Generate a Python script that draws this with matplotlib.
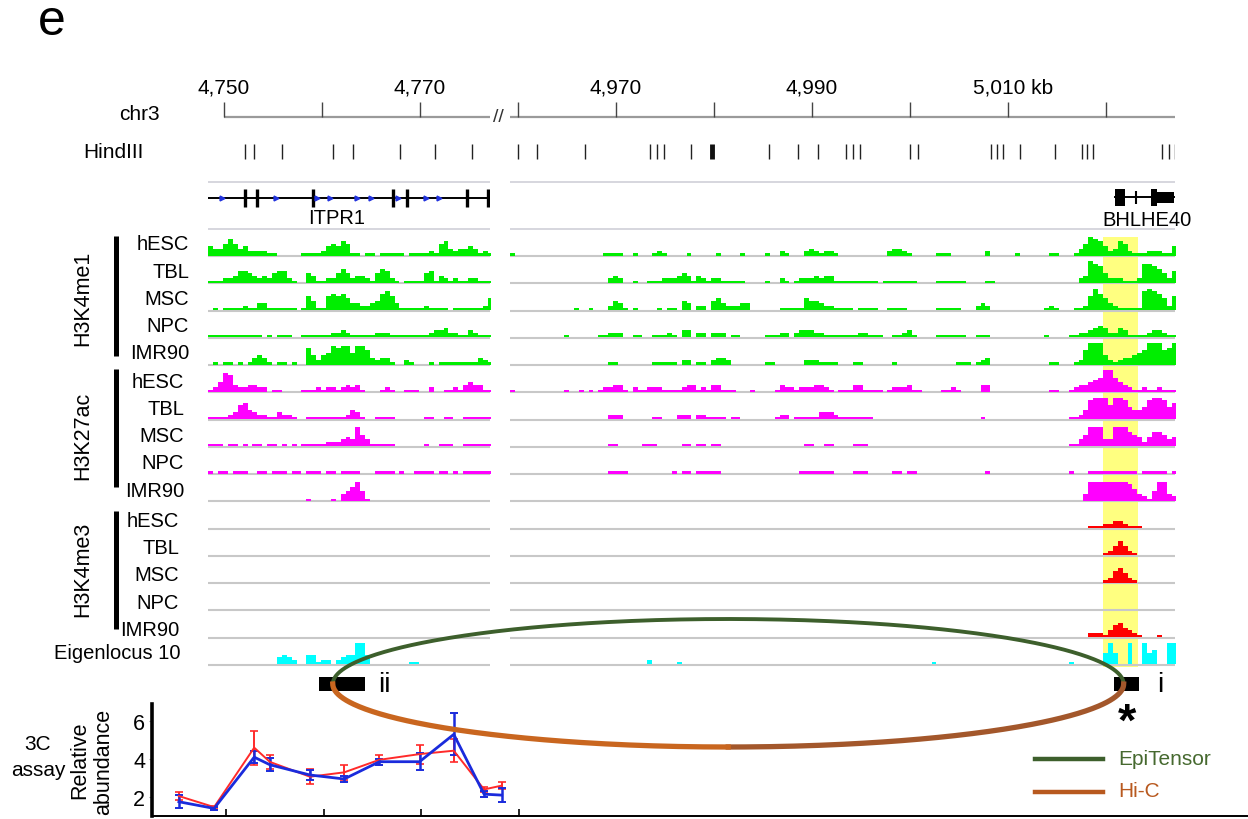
import numpy as np
import matplotlib
matplotlib.use("Agg")
import matplotlib.pyplot as plt

plt.rcParams['font.family'] = ['Liberation Sans', 'DejaVu Sans']

W, H = 1248, 820

# ---------------- data ----------------
cells = ['hESC', 'TBL', 'MSC', 'NPC', 'IMR90']
marks = ['H3K4me1', 'H3K27ac', 'H3K4me3']
eigen_name = 'Eigenlocus 10'

# genomic windows (kb)
left_lim = (4748.37, 4777.14)
right_lim = (4959.18, 5027.04)
left_ticks = [4750, 4760, 4770]
right_ticks = [4960, 4970, 4980, 4990, 5000, 5010, 5020]
tick_text = {4750: '4,750', 4770: '4,770', 4970: '4,970', 4990: '4,990'}
last_tick_text = '5,010 kb'

hind_left = [4752.1, 4753.1, 4755.9, 4761.1, 4763.2, 4768.0, 4771.5, 4775.3]
hind_right = [4960.0, 4961.9, 4966.8, 4973.5, 4974.2, 4974.9, 4977.7, 4985.6,
              4988.6, 4990.6, 4993.5, 4994.2, 4994.9, 5000.0, 5000.8, 5008.3,
              5008.9, 5009.5, 5011.2, 5014.8, 5017.6, 5018.1, 5018.7, 5025.7,
              5026.4, 5027.0]
hind_double = 4979.8

itpr1_exons = [4752.1, 4753.4, 4759.1, 4767.2, 4768.7, 4774.8, 4776.9]
itpr1_arrows = [4749.8, 4755.3, 4759.5, 4760.8, 4763.6, 4765.0, 4767.8, 4770.6, 4771.9]
bhlhe40_span = (5020.9, 5026.9)
bhlhe40_coding = [(5020.9, 5021.9), (5024.6, 5025.2)]
bhlhe40_utr = [(5025.2, 5026.9)]
bhlhe40_mid = [5023.1]

highlight = (5019.7, 5023.3)
anchor_ii = (4759.7, 4764.4)
anchor_i = (5020.8, 5023.35)
loop_ends = (4761.1, 5021.8)

# signal levels (0-9) per 0.5 kb bin; left window from 4748.4 kb, right from 4959.2 kb
left_signal = {
    ('H3K4me1', 'hESC'):  "4335753422 2211000001 1112454651 1011011111 0111121563 23343121",
    ('H3K4me1', 'TBL'):   "1112235543 2324552100 4311224642 3321465210 1111451321 21122111",
    ('H3K4me1', 'MSC'):   "0101111211 3311111101 6411676753 3223478631 1111211110 11111125",
    ('H3K4me1', 'NPC'):   "1111111111 1010111001 1111122321 1111222111 1111123342 21132111",
    ('H3K4me1', 'IMR90'): "0101101013 4310110100 7424587885 8863233100 2100010111 11111321",
    ('H3K27ac', 'hESC'):  "1248732233 2201100001 1121221232 3100012100 1110020011 21343311",
    ('H3K27ac', 'TBL'):   "1111236743 2211322100 1111111124 3100111100 0000110011 00111111",
    ('H3K27ac', 'MSC'):   "1110110101 1011010101 1111222343 8531111100 0000100111 00111111",
    ('H3K27ac', 'NPC'):   "1011011100 1101110110 1110110111 1000111101 0011110110 10111111",
    ('H3K27ac', 'IMR90'): "0000000000 0000000000 1000010346 8410000000 0000000000 00000000",
    ('H3K4me3', 'hESC'):  "0000000000 0000000000 0000000000 0000000000 0000000000 00000000",
    ('H3K4me3', 'TBL'):   "0000000000 0000000000 0000000000 0000000000 0000000000 00000000",
    ('H3K4me3', 'MSC'):   "0000000000 0000000000 0000000000 0000000000 0000000000 00000000",
    ('H3K4me3', 'NPC'):   "0000000000 0000000000 0000000000 0000000000 0000000000 00000000",
    ('H3K4me3', 'IMR90'): "0000000000 0000000000 0000000000 0000000000 0000000000 00000000",
    eigen_name:           "0000000000 0000343200 4412202344 9940000000 0110000000 00000000",
}
right_signal = {
    ('H3K4me1', 'hESC'):  "1000000000 0000000001 1110010001 2100001000 0010000100 0010021000 2321221000 "
                          "0000000233 2100000111 0000000200 0001000000 1100013587 6423652111 222114",
    ('H3K4me1', 'TBL'):   "0000000000 0000000000 2320010011 1222343132 1221111100 0010021012 2232331111 "
                          "1111101111 1110000111 1110000110 0000000000 0000002398 7422211128 876425",
    ('H3K4me1', 'MSC'):   "0000000000 0001001000 2431010000 1011043022 0453222330 0000011111 5443221111 "
                          "0111100111 1000000111 1100023200 0000000001 2100011269 7532111118 987526",
    ('H3K4me1', 'NPC'):   "0000000000 0100000011 2220011001 1121033022 0222011000 0011122023 3322111111 "
                          "1221110011 2310000111 1110011100 0000000001 0000112234 5422431111 233211",
    ('H3K4me1', 'IMR90'): "0000000000 0000000000 1100000001 1111022011 0233200000 0011000000 2221111000 "
                          "1100000010 0000000000 0111012300 0000000000 1100012699 9421233456 999679",
    ('H3K27ac', 'hESC'):  "1000000000 0100101012 2331021122 2111123312 1331110001 0000132212 2233210111 "
                          "3311110122 2311000011 2100003300 0000000000 1100123345 6996432112 112111",
    ('H3K27ac', 'TBL'):   "0000000000 0000000000 2220000001 1000222022 1111011000 0000122011 1113332111 "
                          "1111000000 0000000000 0000001000 0000000000 0000112489 9969985445 899857",
    ('H3K27ac', 'MSC'):   "0000000000 0000000000 1100000111 0000011011 0110000000 0000000000 1100110000 "
                          "1110000000 0000000000 0000000000 0000000000 0000113588 8338886542 466534",
    ('H3K27ac', 'NPC'):   "0000000000 0000000000 1111000000 0001011011 1110000000 0000000001 1111110000 "
                          "1110000011 0110000000 0000000100 0000000000 0000100011 1111111101 111101",
    ('H3K27ac', 'IMR90'): "0000000000 0000000000 0000000000 0000000000 0000000000 0000000000 0000000000 "
                          "0000000000 0000000000 0000000000 0000000000 0000000388 8888887532 148832",
    ('H3K4me3', 'hESC'):  "0000000000 0000000000 0000000000 0000000000 0000000000 0000000000 0000000000 "
                          "0000000000 0000000000 0000000000 0000000000 0000000011 1223321110 000000",
    ('H3K4me3', 'TBL'):   "0000000000 0000000000 0000000000 0000000000 0000000000 0000000000 0000000000 "
                          "0000000000 0000000000 0000000000 0000000000 0000000000 0124642100 000000",
    ('H3K4me3', 'MSC'):   "0000000000 0000000000 0000000000 0000000000 0000000000 0000000000 0000000000 "
                          "0000000000 0000000000 0000000000 0000000000 0000000000 0125642100 000000",
    ('H3K4me3', 'NPC'):   "0000000000 0000000000 0000000000 0000000000 0000000000 0000000000 0000000000 "
                          "0000000000 0000000000 0000000000 0000000000 0000000000 0000000000 000000",
    ('H3K4me3', 'IMR90'): "0000000000 0000000000 0000000000 0000000000 0000000000 0000000000 0000000000 "
                          "0000000000 0000000000 0000000000 0000000000 0000000022 2135643210 001000",
    eigen_name:           "0000000000 0000000000 0000000020 0000100000 0000000000 0000000000 0000000000 "
                          "0000000000 0000001000 0000000000 0000000000 0000100000 0595009009 560099",
}
left_start, right_start, bin_kb = 4748.4, 4959.2, 0.5

# 3C assay
c3_pos = [4745.2, 4748.8, 4752.9, 4754.5, 4758.6, 4762.1, 4765.7, 4769.8, 4773.3, 4776.4, 4778.2]
c3_red = [2.05, 1.47, 4.6, 3.85, 3.07, 3.3, 3.96, 4.26, 4.44, 2.4, 2.6]
c3_red_err = [0.2, 0.08, 0.9, 0.35, 0.4, 0.4, 0.25, 0.5, 0.6, 0.15, 0.2]
c3_blue = [1.75, 1.4, 4.1, 3.7, 3.16, 2.95, 3.86, 3.86, 5.3, 2.15, 2.1]
c3_blue_err = [0.35, 0.1, 0.3, 0.35, 0.25, 0.15, 0.15, 0.45, 1.1, 0.15, 0.35]

# ---------------- style ----------------
mark_colors = {'H3K4me1': '#00ee00', 'H3K27ac': '#ff00ff', 'H3K4me3': '#ff0000'}
eigen_color = '#00ffff'
green_loop = '#3d5f2c'
orange_loop = '#c9661f'
brown_loop = '#a3572b'
grey = '#c8c8c8'
fs_track = 14.5
fs_big = 15

fig = plt.figure(figsize=(W / 100, H / 100), dpi=100)


def px_axes(x0, y0, x1, y1, **kw):
    return fig.add_axes([x0 / W, 1 - y1 / H, (x1 - x0) / W, (y1 - y0) / H], **kw)


def levels(s):
    lv = np.array([int(c) for c in s.replace(' ', '')], dtype=float)
    return np.where(lv > 0, 2.4 * lv - 0.3, 0.0)


track_keys = [(m, c) for m in marks for c in cells] + [eigen_name]
base_y = {k: 257 + 27.25 * i for i, k in enumerate(track_keys)}

ax_l = px_axes(208, 0, 490, H)
ax_r = px_axes(510, 0, 1175, H)
panels = [(ax_l, left_lim, left_ticks, hind_left, left_signal, left_start, left_ticks[0]),
          (ax_r, right_lim, right_ticks, hind_right, right_signal, right_start, right_lim[0])]

for ax, lim, ticks, hind, sig, start, ruler0 in panels:
    ax.set_xlim(lim)
    ax.set_ylim(H, 0)
    ax.axis('off')
    # ruler
    ax.plot([ruler0, lim[1]], [118, 118], color='#9a9a9a', lw=1.6, solid_capstyle='butt')
    ax.vlines(ticks, 103, 118, color='#444444', lw=1.0)
    for t in ticks:
        if t in tick_text:
            ax.text(t, 88, tick_text[t], ha='center', va='center', fontsize=fs_big)
    # HindIII sites
    ax.vlines(hind, 145, 160, color='#222222', lw=1.0)
    # gene track frame
    ax.hlines([183, 230], lim[0], lim[1], color='#d0d0d8', lw=1.2)
    # signal tracks
    for k in track_keys:
        b = base_y[k]
        ax.hlines(b, lim[0], lim[1], color=grey, lw=1.5, zorder=1)
        h = levels(sig[k])
        x = start + bin_kb * np.arange(len(h) + 1)
        col = eigen_color if k == eigen_name else mark_colors[k[0]]
        ax.fill_between(x, b - 0.5, b - 0.5 - np.append(h, h[-1]), step='post', color=col,
                        lw=0, zorder=2)

ax_r.text(5010 - 3.6, 88, last_tick_text, ha='left', va='center', fontsize=fs_big)
ax_r.vlines([hind_double], 145, 160, color='#111111', lw=3.5)

# ITPR1
ax_l.plot(left_lim, [199, 199], color='black', lw=1.4)
ax_l.vlines(itpr1_exons, 190, 208, color='black', lw=2.4)
ax_l.plot(itpr1_arrows, [199] * len(itpr1_arrows), ls='none', marker='>', ms=3.5,
          color='#2233dd', mec='#2233dd')
ax_l.text(4761.5, 219, 'ITPR1', ha='center', va='center', fontsize=fs_track)

# BHLHE40
ax_r.plot(bhlhe40_span, [198, 198], color='black', lw=1.4)
for a, b in bhlhe40_coding:
    ax_r.fill_between([a, b], 190, 207, color='black', lw=0)
for a, b in bhlhe40_utr:
    ax_r.fill_between([a, b], 193, 204, color='black', lw=0)
ax_r.vlines(bhlhe40_mid, 192, 205, color='black', lw=1.5)
ax_r.text(5024.2, 220, 'BHLHE40', ha='center', va='center', fontsize=fs_track)

# highlight
ax_r.fill_between(highlight, 238, 668, color='#ffff80', lw=0, zorder=0)

# anchors
ax_l.fill_between(anchor_ii, 678, 692, color='black', lw=0, zorder=3)
ax_r.fill_between(anchor_i, 678, 692, color='black', lw=0, zorder=3)
ax_l.text(4766.4, 685, 'ii', ha='center', va='center', fontsize=20)
ax_r.text(5025.5, 685, 'i', ha='center', va='center', fontsize=20)
ax_r.text(5022.1, 724, '*', ha='center', va='center', fontsize=34, fontweight='bold')

# ---------------- 3C assay ----------------
ax3 = px_axes(152, 705, 1248, 817)
ax3.set_facecolor('none')
ax3.set_xlim(4742.45, 4854.5)
ax3.set_ylim(1.0, 6.9)
ax3.errorbar(c3_pos, c3_red, yerr=c3_red_err, color='#ff2a2a', lw=1.4, elinewidth=1.4,
             capsize=3, capthick=1.2)
ax3.errorbar(c3_pos, c3_blue, yerr=c3_blue_err, color='#1a2bdc', lw=2.0, elinewidth=1.8,
             capsize=3, capthick=1.4)
for s in ['top', 'right']:
    ax3.spines[s].set_visible(False)
ax3.spines['left'].set_linewidth(2.6)
ax3.spines['bottom'].set_linewidth(1.4)
ax3.set_xticks([4750, 4760, 4770, 4780])
ax3.set_xticklabels([])
ax3.tick_params(axis='x', direction='in', length=5, width=1.2)
ax3.set_yticks([2, 4, 6])
ax3.tick_params(axis='y', length=2, color='#999999', labelsize=15.5, pad=3)

# ---------------- overlay: labels, loops, legend ----------------
ov = fig.add_axes([0, 0, 1, 1], zorder=5)
ov.set_facecolor('none')
ov.set_xlim(0, W)
ov.set_ylim(H, 0)
ov.axis('off')

ov.text(52, 22, 'e', ha='center', va='center', fontsize=36)
ov.text(139, 115, 'chr3', ha='center', va='center', fontsize=fs_big)
ov.text(113, 153, 'HindIII', ha='center', va='center', fontsize=fs_big)
ov.text(498, 117, '//', ha='center', va='center', fontsize=14, color='#333333')

label_right = [189, 184, 179]
label_dy = [-12, -11, -8]
bar_span = [(237, 357), (370, 488), (512, 630)]
group_mid = [298, 436, 569]
for mi, m in enumerate(marks):
    for c in cells:
        ov.text(label_right[mi], base_y[(m, c)] + label_dy[mi], c, ha='right', va='center',
                fontsize=fs_track)
    y0, y1 = bar_span[mi]
    ov.plot([116, 116], [y0, y1], color='black', lw=3.6, solid_capstyle='butt')
    ov.text(83, group_mid[mi], m, rotation=90, ha='center', va='center', fontsize=15.5)
ov.text(181, base_y[eigen_name] - 12, eigen_name, ha='right', va='center', fontsize=fs_track)

ov.text(38, 745, '3C', ha='center', va='center', fontsize=fs_big)
ov.text(38, 771, 'assay', ha='center', va='center', fontsize=fs_big)
ov.text(80, 760, 'Relative', rotation=90, ha='center', va='center', fontsize=15.5)
ov.text(104, 762, 'abundance', rotation=90, ha='center', va='center', fontsize=15.5)

# loops between the anchors
xl = ax_l.transData.transform((loop_ends[0], 0))[0]
xr = ax_r.transData.transform((loop_ends[1], 0))[0]
cx, a, cy = (xl + xr) / 2, (xr - xl) / 2, 685
t = np.linspace(0, np.pi, 300)
ov.plot(cx + a * np.cos(t), cy - 65 * np.sin(t), color=green_loop, lw=2.8)
th = np.linspace(0, np.pi / 2, 150)
ov.plot(cx + a * np.cos(th), cy + 63 * np.sin(th), color=brown_loop, lw=3.8)
th = np.linspace(np.pi / 2, np.pi, 150)
ov.plot(cx + a * np.cos(th), cy + 63 * np.sin(th), color=orange_loop, lw=3.8)

# legend
ov.plot([1035, 1103], [760, 760], color=green_loop, lw=3.2)
ov.text(1118, 760, 'EpiTensor', color='#46692f', ha='left', va='center', fontsize=fs_big)
ov.plot([1035, 1103], [793, 793], color='#b8591f', lw=3.2)
ov.text(1118, 792, 'Hi-C', color='#b8591f', ha='left', va='center', fontsize=fs_big)

fig.savefig('out.png', dpi=100)
